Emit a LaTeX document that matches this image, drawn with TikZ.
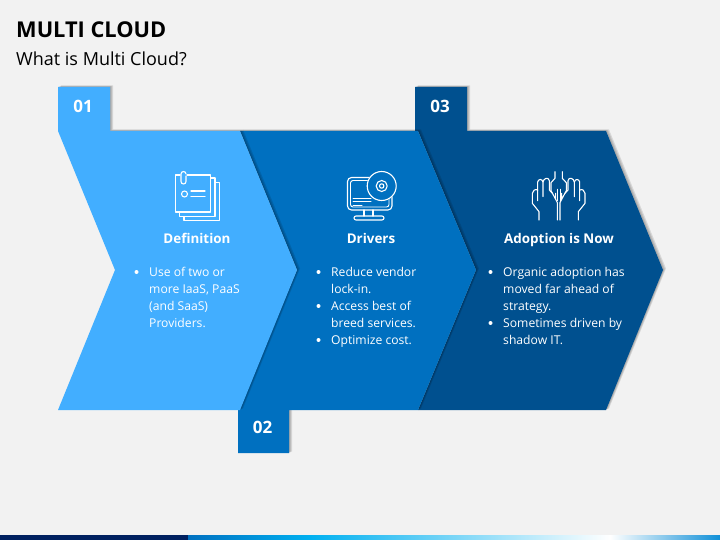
\documentclass[tikz,border=0pt]{standalone}
\usepackage{fontspec}
\setmainfont{Open Sans}
\definecolor{pagebg}{HTML}{F2F2F2}
\definecolor{lightblue}{HTML}{42AEFF}
\definecolor{midblue}{HTML}{0070C0}
\definecolor{darkblue}{HTML}{00508F}
\definecolor{navybar}{HTML}{002060}
\definecolor{cyanbar}{HTML}{00B0F0}
\definecolor{endbar}{HTML}{1090D8}
\tikzset{
  heading/.style={anchor=base west,inner sep=0pt,text=black},
  numlabel/.style={anchor=center,inner sep=0pt,text=white,font=\fontsize{17}{17}\selectfont\bfseries},
  steptitle/.style={anchor=base,inner sep=0pt,text=white,font=\fontsize{13.4}{15}\selectfont\bfseries},
  bodytext/.style={anchor=north west,inner sep=0pt,text=white,align=left,font=\fontsize{12.15}{17}\selectfont},
  bulletdot/.style={circle,fill=white,inner sep=0pt,minimum size=4pt},
  iconline/.style={draw=white,line width=1.1pt,line cap=round,line join=round},
}
\newcommand{\softshadow}[1]{%
  \foreach \d in {1,2,3}{\fill[black,opacity=0.11,shift={(\d pt,0.5*\d pt)}] #1;}%
}
\newcommand{\fl}{\rule{0pt}{11pt}}
\newcommand{\handhalf}{%
  \draw[iconline] (72,180) -- (72,155) -- (52,130) -- (52,100) .. controls (53,92) and (60,86) .. (68,90) -- (68,122);
  \draw[iconline] (68,92) -- (68,66) .. controls (70,56) and (82,56) .. (84,66) -- (84,110);
  \draw[iconline] (84,66) .. controls (86,54) and (101,50) .. (103,62) -- (103,90) -- (112,100);
  \draw[iconline] (120,35) -- (120,55) -- (108,68) -- (108,92) -- (122,118) -- (122,100);
  \draw[iconline] (122,118) -- (127,128) -- (127,180);
}
\begin{document}
\begin{tikzpicture}[x=1pt,y=-1pt]
\useasboundingbox (0,0) rectangle (720,540);
\fill[pagebg] (0,0) rectangle (720,540);
% footer bar
\fill[navybar] (0,535) rectangle (188,540);
\shade[left color=midblue,right color=cyanbar] (188,535) rectangle (310,540);
\shade[left color=cyanbar,right color=white] (310,535) rectangle (610,540);
\shade[left color=white,right color=endbar] (610,535) rectangle (720,540);
% titles
\node[heading,font=\fontsize{21.8}{23}\selectfont\bfseries] (title) at (16,37.5) {MULTI CLOUD};
\node[heading,font=\fontsize{18}{18}\selectfont] (subtitle) at (16,65.5) {What is Multi Cloud?};
% chevron 3
\def\shapeC{(415,87) -- (467,87) -- (467,131) -- (606,131) -- (663,270) -- (606,410) -- (418,410) -- (476,270) -- (418,131) -- (415,131) -- cycle}
\softshadow{\shapeC}
\fill[darkblue] \shapeC;
% chevron 2
\def\shapeB{(240,131) -- (418,131) -- (476,270) -- (418,410) -- (289,410) -- (289,453) -- (238,453) -- (238,410) -- (297,270) -- cycle}
\softshadow{\shapeB}
\fill[midblue] \shapeB;
% chevron 1
\def\shapeA{(58,87) -- (110,87) -- (110,131) -- (240,131) -- (297,270) -- (240,410) -- (58,410) -- (115,270) -- (58,131) -- cycle}
\softshadow{\shapeA}
\fill[lightblue] \shapeA;
% numbers
\node[numlabel] (n1) at (83,106) {01};
\node[numlabel] (n2) at (262.5,427) {02};
\node[numlabel] (n3) at (440,106) {03};
% step titles
\node[steptitle] (t1) at (197,243.5) {Definition};
\node[steptitle] (t2) at (371,243.5) {Drivers};
\node[steptitle] (t3) at (559,243.5) {Adoption is Now};
% body 1
\node[bulletdot] (b11) at (136.5,272) {};
\node[bodytext] (x11) at (149,265.5) {\fl Use of two or\\more IaaS, PaaS\\(and SaaS)\\Providers.};
% body 2
\node[bulletdot] (b21) at (318.5,272) {};
\node[bodytext] (x21) at (331,265.5) {\fl Reduce vendor\\lock-in.};
\node[bulletdot] (b22) at (318.5,306) {};
\node[bodytext] (x22) at (331,299.5) {\fl Access best of\\breed services.};
\node[bulletdot] (b23) at (318.5,340) {};
\node[bodytext] (x23) at (331,333.5) {\fl Optimize cost.};
% body 3
\node[bulletdot] (b31) at (490.5,272) {};
\node[bodytext] (x31) at (503,265.5) {\fl Organic adoption has\\moved far ahead of\\strategy.};
\node[bulletdot] (b32) at (490.5,323) {};
\node[bodytext] (x32) at (503,316.5) {\fl Sometimes driven by\\shadow IT.};
% icon 1: notes
\draw[iconline] (211,178) -- (215,178) -- (215,216.5) -- (179.5,216.5) -- (179.5,212);
\draw[iconline] (215,182.5) -- (219.3,182.5) -- (219.3,220.7) -- (184,220.7) -- (184,216.5);
\draw[iconline] (187,175) -- (210.7,175) -- (210.7,212) -- (175.5,212) -- (175.5,175) -- (180,175);
\draw[iconline] (186,176) -- (186,181.5) arc[start angle=0,end angle=-180,x radius=2.5,y radius=-2.5] -- (181,174) arc[start angle=180,end angle=0,x radius=2.5,y radius=-2.5];
\draw[iconline] (184.5,194) circle[radius=3];
\draw[iconline] (191,191) -- (205,191);
\draw[iconline] (191,196.5) -- (205,196.5);
% icon 2: monitor and disc
\draw[iconline,rounded corners=4pt] (347.5,177.5) rectangle (392,210);
\draw[iconline,rounded corners=2.5pt,line width=.9pt] (350.5,180.5) rectangle (389,207);
\fill[midblue] (381.7,186) circle[radius=15];
\draw[iconline] (381.7,186) circle[radius=14.5];
\draw[iconline] (381.7,186) circle[radius=5.5];
\draw[iconline] (381.7,186) circle[radius=2.2];
\draw[iconline,line width=1pt] (353,198.5) -- (371,198.5);
\draw[iconline,line width=1pt] (353,202) -- (371,202);
\draw[iconline,line width=1pt] (353,205.5) -- (362,205.5);
\draw[iconline] (364,210) -- (364,216);
\draw[iconline] (373,210) -- (373,216);
\draw[iconline,rounded corners=2pt] (354,216) rectangle (384,220);
% icon 3: hands
\begin{scope}[shift={(515,160)},xscale=0.3333,yscale=0.3333]
\handhalf
\end{scope}
\begin{scope}[shift={(602.33,160)},xscale=-0.3333,yscale=0.3333]
\handhalf
\end{scope}
\draw[iconline] (557.2,189.3) -- (557.2,200.7);
\draw[iconline] (560.2,189.3) -- (560.2,200.7);
\end{tikzpicture}
\end{document}
